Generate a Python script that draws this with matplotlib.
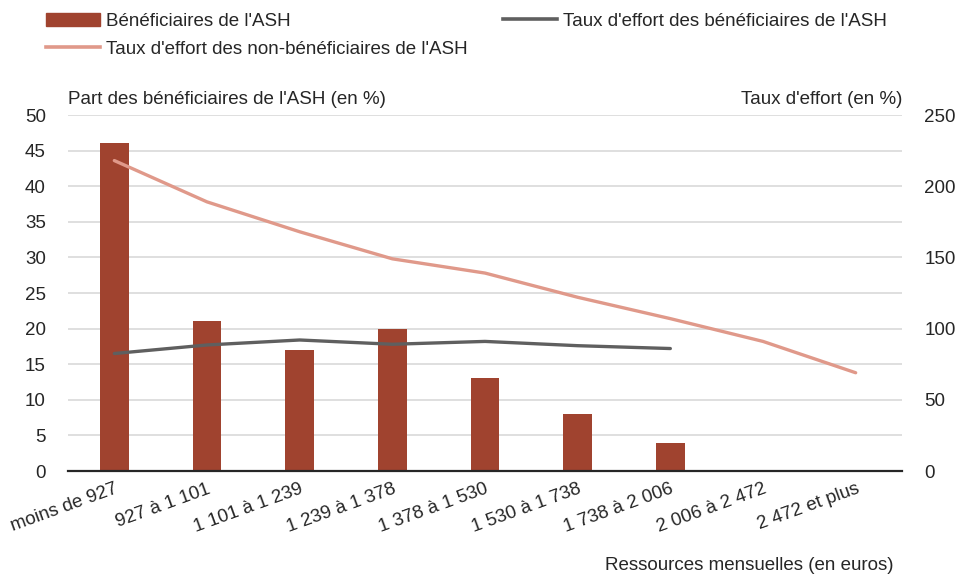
import matplotlib.pyplot as plt
from matplotlib.patches import Patch
from matplotlib.lines import Line2D

plt.rcParams['font.family'] = ['Liberation Sans', 'DejaVu Sans']

categories = ['moins de 927', '927 à 1 101', '1 101 à 1 239', '1 239 à 1 378',
              '1 378 à 1 530', '1 530 à 1 738', '1 738 à 2 006', '2 006 à 2 472',
              '2 472 et plus']
part_ash = [46, 21, 17, 20, 13, 8, 4]
effort_ash = [82.5, 88.5, 92, 89, 91, 88, 86]
effort_non_ash = [218, 189, 168, 149, 139, 122, 107, 91, 69]

bar_color = '#A0432F'
dark_color = '#5F5F5F'
pink_color = '#E0998A'
txt = '#262626'
fs = 13.5

fig = plt.figure(figsize=(9.55, 5.76), dpi=100)
ax = fig.add_axes([68 / 955, 1 - 471 / 576, (902 - 68) / 955, (471 - 115) / 576])
ax2 = ax.twinx()

x = list(range(len(categories)))
ax.bar(x[:len(part_ash)], part_ash, width=0.31, color=bar_color, zorder=2)
ax2.plot(x[:len(effort_ash)], effort_ash, color=dark_color, lw=2.4, solid_capstyle='round')
ax2.plot(x, effort_non_ash, color=pink_color, lw=2.4, solid_capstyle='round')

ax.set_xlim(-0.5, len(categories) - 0.5)
ax.set_ylim(0, 50)
ax2.set_ylim(0, 250)
ax.set_yticks(range(0, 51, 5))
ax2.set_yticks(range(0, 251, 50))
ax.yaxis.grid(True, color='#D9D9D9', lw=1.2, zorder=0)
ax.set_axisbelow(True)

for a in (ax, ax2):
    for s in ('top', 'left', 'right', 'bottom'):
        a.spines[s].set_visible(False)
    a.tick_params(length=0, labelsize=fs, labelcolor=txt)
ax.spines['bottom'].set_visible(True)
ax.spines['bottom'].set_color(txt)
ax.spines['bottom'].set_linewidth(1.6)
ax.tick_params(axis='y', pad=16)
ax2.tick_params(axis='y', pad=16)

ax.set_xticks(x)
ax.set_xticklabels(categories, rotation=20, ha='right', rotation_mode='anchor')
ax.tick_params(axis='x', pad=7)

ax.text(0, 1.02, "Part des bénéficiaires de l'ASH (en %)", transform=ax.transAxes,
        ha='left', va='bottom', fontsize=fs, color=txt)
ax.text(1, 1.02, "Taux d'effort (en %)", transform=ax.transAxes,
        ha='right', va='bottom', fontsize=fs, color=txt)
fig.text(893 / 955, 1 - 565 / 576, "Ressources mensuelles (en euros)",
         ha='right', va='center', fontsize=fs, color=txt)

h_bar = Patch(color=bar_color)
h_pink = Line2D([], [], color=pink_color, lw=2.6)
h_dark = Line2D([], [], color=dark_color, lw=2.6)
leg_kw = dict(frameon=False, fontsize=fs, handlelength=2.9, handletextpad=0.3,
              labelspacing=0.6, labelcolor=txt, borderaxespad=0)
fig.legend([h_bar, h_pink], ["Bénéficiaires de l'ASH",
                             "Taux d'effort des non-bénéficiaires de l'ASH"],
           loc='upper left', bbox_to_anchor=(38 / 955, 1 - 5 / 576), **leg_kw)
fig.legend([h_dark], ["Taux d'effort des bénéficiaires de l'ASH"],
           loc='upper left', bbox_to_anchor=(495 / 955, 1 - 5 / 576), **leg_kw)

fig.savefig('out.png', dpi=100)
